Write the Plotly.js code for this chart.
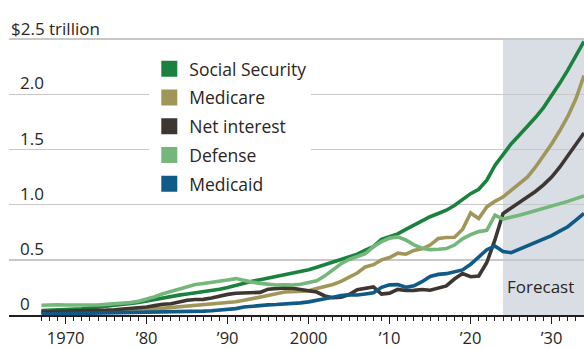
<!DOCTYPE html>
<html>
<head>
<meta charset="utf-8">
<script src="https://cdn.plot.ly/plotly-3.0.1.min.js"></script>
<style>html,body{margin:0;padding:0;background:#fff;}#chart{width:584px;height:349px;}</style>
</head>
<body>
<div id="chart"></div>
<script>
// Fiscal years
const years = [1967,1968,1969,1970,1971,1972,1973,1974,1975,1976,1977,1978,1979,1980,1981,1982,1983,1984,1985,1986,1987,1988,1989,1990,1991,1992,1993,1994,1995,1996,1997,1998,1999,2000,2001,2002,2003,2004,2005,2006,2007,2008,2009,2010,2011,2012,2013,2014,2015,2016,2017,2018,2019,2020,2021,2022,2023,2024,2025,2026,2027,2028,2029,2030,2031,2032,2033,2034];

// Outlays, $ trillion
const socialSecurity = [0.040,0.042,0.045,0.048,0.052,0.056,0.063,0.070,0.078,0.086,0.096,0.104,0.114,0.128,0.145,0.160,0.172,0.180,0.190,0.200,0.209,0.221,0.234,0.250,0.270,0.288,0.305,0.320,0.336,0.350,0.365,0.379,0.392,0.410,0.433,0.456,0.476,0.498,0.525,0.551,0.588,0.620,0.685,0.710,0.735,0.776,0.817,0.855,0.891,0.920,0.950,0.993,1.050,1.100,1.140,1.222,1.356,1.460,1.550,1.630,1.705,1.790,1.880,1.985,2.100,2.220,2.350,2.480];

const medicare = [0.020,0.021,0.022,0.023,0.024,0.025,0.026,0.028,0.030,0.032,0.035,0.038,0.042,0.048,0.055,0.062,0.068,0.073,0.080,0.085,0.090,0.095,0.102,0.112,0.120,0.133,0.146,0.162,0.178,0.192,0.208,0.212,0.212,0.219,0.240,0.256,0.277,0.304,0.338,0.381,0.436,0.456,0.500,0.521,0.560,0.551,0.585,0.600,0.634,0.693,0.702,0.705,0.775,0.925,0.875,0.980,1.030,1.070,1.130,1.190,1.250,1.340,1.440,1.550,1.670,1.800,1.960,2.170];

const netInterest = [0.030,0.031,0.032,0.034,0.035,0.036,0.038,0.042,0.044,0.048,0.052,0.057,0.064,0.072,0.085,0.098,0.102,0.118,0.133,0.140,0.142,0.155,0.172,0.187,0.197,0.202,0.201,0.205,0.234,0.243,0.246,0.243,0.232,0.225,0.208,0.173,0.156,0.162,0.186,0.229,0.239,0.255,0.189,0.198,0.232,0.222,0.223,0.231,0.225,0.242,0.264,0.326,0.376,0.347,0.354,0.476,0.680,0.920,0.970,1.020,1.070,1.120,1.180,1.250,1.340,1.440,1.540,1.650];

const defense = [0.088,0.093,0.093,0.091,0.089,0.089,0.088,0.090,0.096,0.099,0.106,0.113,0.125,0.142,0.165,0.192,0.215,0.232,0.256,0.276,0.286,0.294,0.310,0.318,0.330,0.310,0.298,0.287,0.278,0.272,0.274,0.272,0.279,0.298,0.310,0.355,0.415,0.465,0.503,0.528,0.557,0.620,0.665,0.697,0.708,0.680,0.636,0.606,0.593,0.596,0.602,0.634,0.690,0.728,0.756,0.768,0.905,0.870,0.885,0.905,0.925,0.945,0.965,0.985,1.005,1.030,1.055,1.080];

const medicaid = [0.008,0.009,0.010,0.011,0.012,0.013,0.013,0.014,0.015,0.017,0.018,0.019,0.021,0.022,0.025,0.026,0.028,0.029,0.031,0.033,0.035,0.038,0.042,0.048,0.058,0.072,0.080,0.086,0.092,0.095,0.098,0.103,0.110,0.119,0.130,0.148,0.161,0.176,0.182,0.181,0.191,0.201,0.251,0.273,0.275,0.251,0.265,0.302,0.350,0.368,0.375,0.389,0.409,0.459,0.521,0.592,0.625,0.575,0.565,0.595,0.625,0.655,0.690,0.720,0.760,0.800,0.860,0.920];

const seriesNames = ['Social Security','Medicare','Net interest','Defense','Medicaid'];
const seriesValues = [socialSecurity, medicare, netInterest, defense, medicaid];
const seriesColors = ['#1b813e','#a0965a','#3e3731','#74b77a','#0f5a87'];

const yTickVals = [0, 0.5, 1.0, 1.5, 2.0, 2.5];
const yTickText = ['0','0.5','1.0','1.5','2.0','$2.5 trillion'];
const xTickAlias = {'1980':'\u201980','1990':'\u201990','2010':'\u201910','2020':'\u201920','2030':'\u201930'};
const forecastStart = 2024;
const forecastEnd = 2034;

const FONT = '"Open Sans", "Noto Sans", sans-serif';
const TEXT = '#2b2523';

const traces = [];
seriesNames.forEach((n, i) => {
  traces.push({
    type: 'scatter', mode: 'lines', name: n, x: years, y: seriesValues[i],
    line: {color: seriesColors[i], width: 3.6}, showlegend: false, hoverinfo: 'skip',
    legendgroup: 'g' + i
  });
});
// legend swatches
seriesNames.forEach((n, i) => {
  traces.push({
    type: 'scatter', mode: 'markers', name: n, x: [null], y: [null],
    marker: {symbol: 'square', size: 16, color: seriesColors[i]},
    showlegend: true, legendgroup: 'g' + i, hoverinfo: 'skip'
  });
});

const annotations = yTickVals.map((v, i) => ({
  xref: 'paper', yref: 'y', x: i === yTickVals.length - 1 ? 0 : 0.0157, y: v,
  xanchor: 'left', yanchor: 'bottom', yshift: i === yTickVals.length - 1 ? -3 : -2, showarrow: false,
  text: yTickText[i], font: {family: FONT, size: 17, color: TEXT}
}));
annotations.push({
  xref: 'x', yref: 'y', x: forecastStart, y: 0.26, xanchor: 'left', yanchor: 'middle',
  xshift: 2, showarrow: false, text: 'Forecast', font: {family: FONT, size: 17, color: TEXT}
});

const layout = {
  width: 584, height: 349,
  margin: {l: 9, r: 0, t: 37, b: 34, pad: 0},
  paper_bgcolor: '#ffffff', plot_bgcolor: '#ffffff',
  font: {family: FONT, color: TEXT, size: 16},
  xaxis: {
    range: [1963, 2034], tickmode: 'linear', tick0: 1970, dtick: 10,
    labelalias: xTickAlias, ticks: 'outside', ticklen: 7, tickwidth: 1.5, tickcolor: '#231f20',
    showline: true, linecolor: '#231f20', linewidth: 2, showgrid: false, zeroline: false,
    tickfont: {family: FONT, size: 16.5, color: TEXT},
    minor: {tickmode: 'array', tickvals: years, ticks: 'outside', ticklen: 4, tickwidth: 1, tickcolor: '#231f20', showgrid: false},
    fixedrange: true
  },
  yaxis: {
    range: [0, 2.52], tickmode: 'array', tickvals: yTickVals, showticklabels: false,
    showgrid: true, gridcolor: '#c8c8c8', gridwidth: 1.5, zeroline: false, ticks: '',
    fixedrange: true
  },
  shapes: [{
    type: 'rect', xref: 'x', yref: 'y', x0: forecastStart, x1: forecastEnd, y0: 0, y1: 2.5,
    fillcolor: '#d9dee4', line: {width: 0}, layer: 'below'
  }],
  annotations: annotations,
  legend: {
    x: 0.244, y: 0.95, xanchor: 'left', yanchor: 'top', bgcolor: '#ffffff', borderwidth: 0,
    font: {family: FONT, size: 17.5, color: TEXT}, traceorder: 'grouped', tracegroupgap: 3,
    itemclick: false, itemdoubleclick: false
  },
  showlegend: true,
  hovermode: false
};

Plotly.newPlot('chart', traces, layout, {staticPlot: true, displayModeBar: false});
</script>
</body>
</html>
